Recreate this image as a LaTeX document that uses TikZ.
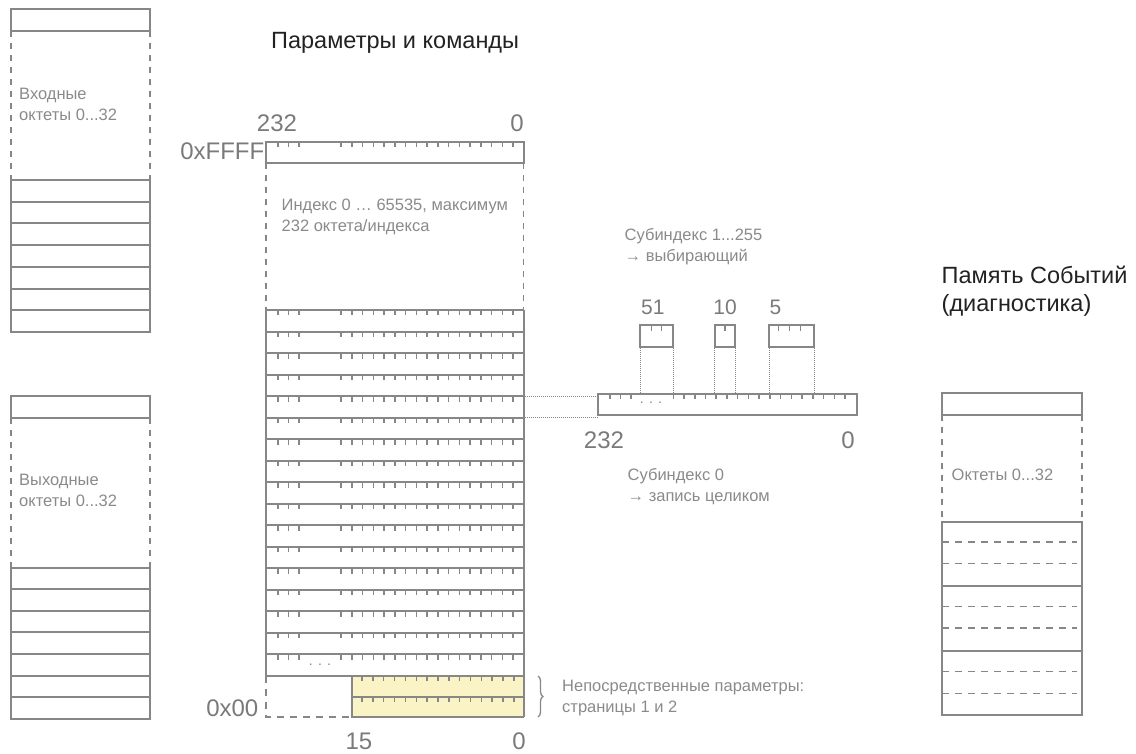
\documentclass[tikz,border=0pt]{standalone}
\usepackage{fontspec}
\setmainfont{Liberation Sans}
\usetikzlibrary{decorations.pathreplacing}
\definecolor{lc}{HTML}{878787}
\definecolor{tc}{HTML}{8A8A8A}
\definecolor{nc}{HTML}{7A7A7A}
\definecolor{hc}{HTML}{222222}
\definecolor{yc}{HTML}{FAF3C6}
\newcommand{\tkrow}[1]{%
  \foreach \xx in {278,288.5,299} {\draw[tk] (\xx,#1) -- ++(0,5.5);}
  \foreach \k in {0,...,16} {\draw[tk] ({341+\k*10.75},#1) -- ++(0,5.5);}%
}
\newcommand{\tkyel}[1]{%
  \foreach \k in {0,...,14} {\draw[tk] ({362+\k*10.85},#1) -- ++(0,5.5);}%
}
\begin{document}
\begin{tikzpicture}[x=1pt,y=-1pt,
  ln/.style={draw=lc,line width=2pt},
  tk/.style={draw=lc,line width=1.5pt},
  dsh/.style={draw=lc,line width=1.7pt,dash pattern=on 6pt off 6pt},
  dshh/.style={draw=lc,line width=1.6pt,dash pattern=on 7pt off 6pt},
  dot/.style={draw=lc,line width=0.9pt,dash pattern=on 1pt off 1pt},
  lbl/.style={text=tc,font=\fontsize{16.5}{21}\selectfont,anchor=west,align=left,inner sep=0pt},
  num/.style={text=nc,font=\fontsize{24}{28}\selectfont,inner sep=0pt},
  snum/.style={text=nc,font=\fontsize{21}{24}\selectfont,inner sep=0pt},
  ttl/.style={text=hc,font=\fontsize{23.5}{28}\selectfont,inner sep=0pt,align=left}]
\useasboundingbox (0,0) rectangle (1136,754);

% ---------- left input box ----------
\draw[ln] (11,9.5) rectangle (150,31.5);
\draw[dsh] (11,31.5) -- (11,180);
\draw[dsh] (150,31.5) -- (150,180);
\draw[ln] (11,180) rectangle (150,332);
\foreach \i in {1,...,6} {\draw[ln] (11,{180+\i*21.714}) -- (150,{180+\i*21.714});}
\node[lbl] (inp) at (19,104) {Входные\\октеты 0...32};

% ---------- left output box ----------
\draw[ln] (11,395.5) rectangle (150,417.5);
\draw[dsh] (11,417.5) -- (11,567.5);
\draw[dsh] (150,417.5) -- (150,567.5);
\draw[ln] (11,567.5) rectangle (150,719);
\foreach \i in {1,...,6} {\draw[ln] (11,{567.5+\i*21.643}) -- (150,{567.5+\i*21.643});}
\node[lbl] (outp) at (19,490) {Выходные\\октеты 0...32};

% ---------- central column ----------
\node[ttl,anchor=base west] (title) at (271,48.3) {Параметры и команды};
\node[num,anchor=base] (n232a) at (277,132) {232};
\node[num,anchor=base] (n0a) at (517,132) {0};
\node[num,anchor=base east] (hffff) at (264.5,160) {0xFFFF};

\draw[ln] (266,142) rectangle (523.5,163);
\tkrow{142}
\draw[dsh] (266,163) -- (266,310);
\draw[dsh] (523.5,163) -- (523.5,310);
\node[lbl] (idx) at (281.5,217) {Индекс 0 … 65535, максимум\\232 октета/индекса};

\fill[yc] (352,675.5) rectangle (523.5,717);
\foreach \i in {0,...,17} {\draw[ln] (266,{310+\i*21.5}) -- (523.5,{310+\i*21.5});}
\foreach \i in {0,...,16} {\tkrow{310+\i*21.5}}
\draw[ln] (266,310) -- (266,675.5);
\draw[ln] (523.5,310) -- (523.5,717);
\node[text=lc,font=\fontsize{14}{16}\selectfont,inner sep=0pt] (dots1) at (320,665) {. . .};

% immediate parameters (yellow)
\draw[ln] (352,675.5) -- (352,717) -- (523.5,717);
\draw[ln] (352,696.5) -- (523.5,696.5);
\tkyel{675.5}
\tkyel{696.5}
\draw[dshh] (266,675.5) -- (266,717) -- (352,717);
\node[num,anchor=base east] (h00) at (258.5,716.5) {0x00};
\node[num,anchor=base] (n15) at (359,749.5) {15};
\node[num,anchor=base] (n0b) at (519,749.5) {0};
\draw[draw=lc,line width=1.3pt,decorate,decoration={brace,amplitude=5pt}] (538,676) -- (538,717);
\node[lbl] (imm) at (562,698.5) {Непосредственные параметры:\\страницы 1 и 2};

% ---------- subindex detail ----------
\node[lbl] (sub1) at (624.5,246.5) {Субиндекс 1...255\\→ выбирающий};
\draw[ln] (598,393.5) rectangle (857,415);
\foreach \xx in {610,620.5,631} {\draw[tk] (\xx,393.5) -- ++(0,5.5);}
\foreach \k in {0,...,16} {\draw[tk] ({673.3+\k*10.73},393.5) -- ++(0,5.5);}
\node[text=lc,font=\fontsize{14}{16}\selectfont,inner sep=0pt] (dots2) at (651,403) {. . .};

\draw[ln] (640,325) rectangle (673,347);
\foreach \xx in {651.7,661.7} {\draw[tk] (\xx,325) -- ++(0,5.5);}
\draw[ln] (714.5,325) rectangle (735,347);
\draw[tk] (725,325) -- ++(0,5.5);
\draw[ln] (769,325) rectangle (814,347);
\foreach \xx in {778.5,789.5,800.5} {\draw[tk] (\xx,325) -- ++(0,5.5);}
\foreach \xx in {640,673,714.5,735,769,814} {\draw[dot] (\xx,348) -- (\xx,393);}

\node[snum,anchor=base west] (l51) at (641,315) {51};
\node[snum,anchor=base] (l10) at (725,315) {10};
\node[snum,anchor=base west] (l5) at (769.5,315) {5};
\node[num,anchor=base] (n232b) at (604,448) {232};
\node[num,anchor=base] (n0c) at (848,448) {0};
\node[lbl] (sub0) at (627.5,486.5) {Субиндекс 0\\→ запись целиком};

\coordinate (ra) at (524.5,396);
\coordinate (rb) at (524.5,417.5);
\coordinate (ba) at (597,396);
\coordinate (bb) at (597,417.5);
\draw[dot] (ra) -- (ba);
\draw[dot] (rb) -- (bb);

% ---------- event memory ----------
\node[ttl,anchor=base west] (evt) at (941.5,312) {Память Событий\\(диагностика)};
\draw[ln] (942,393) rectangle (1082,415);
\draw[dsh] (942,415) -- (942,521.5);
\draw[dsh] (1082,415) -- (1082,521.5);
\node[lbl] (oct) at (951.5,475) {Октеты 0...32};
\draw[ln] (942,521.5) rectangle (1082,715);
\draw[ln] (942,586) -- (1082,586);
\draw[ln] (942,650.5) -- (1082,650.5);
\foreach \yy in {542,563.5,606.5,628,671.5,693.5} {\draw[dshh] (942,\yy) -- (1077,\yy);}
\end{tikzpicture}
\end{document}
